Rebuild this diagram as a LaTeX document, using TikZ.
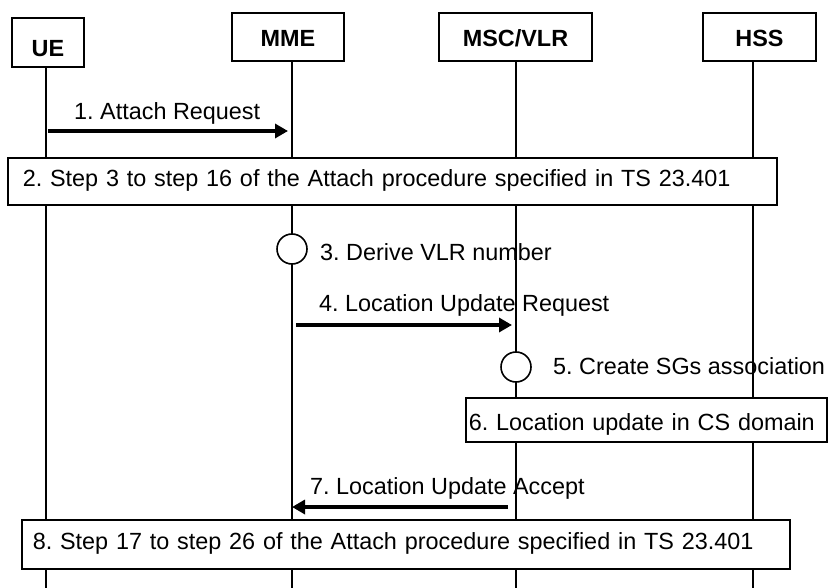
\documentclass[tikz,border=0pt]{standalone}
\usepackage{fontspec}
\setmainfont{Liberation Sans}
\usetikzlibrary{arrows.meta}
\frenchspacing
\tikzset{
  basefont/.style={font=\fontsize{23.4}{28}\selectfont\frenchspacing},
  entity/.style={draw, line width=1.6pt, fill=white, inner sep=0pt, font=\fontsize{23.4}{28}\selectfont\bfseries, text depth=0pt},
  stepbox/.style={draw, line width=1.6pt, fill=white, align=left, text depth=0pt},
  life/.style={line width=1.6pt},
  msg/.style={line width=4pt, -{Triangle[length=13pt,width=14pt]}},
  proc/.style={draw, circle, line width=1.6pt, fill=white, minimum size=30pt, inner sep=0pt},
  lbl/.style={anchor=base west, inner sep=0pt}
}
\begin{document}
\begin{tikzpicture}[x=1pt,y=-1pt,basefont]
\useasboundingbox (0,0) rectangle (832,588);
% entities
\node[entity, minimum width=72pt, minimum height=49pt, text height=29pt] (ue) at (48,42.5) {UE};
\node[entity, minimum width=112pt, minimum height=48pt, text height=20pt] (mme) at (288,37) {MME};
\node[entity, minimum width=153pt, minimum height=48pt, text height=20pt] (msc) at (515.5,37) {MSC/VLR};
\node[entity, minimum width=113pt, minimum height=48pt, text height=20pt] (hss) at (759.5,37) {HSS};
% lifeline ends
\coordinate (ueE) at (46,588);
\coordinate (mmeE) at (292,588);
\coordinate (mscE) at (516,588);
\coordinate (hssE) at (753,588);
\draw[life] (ue.south -| ueE) -- (ueE);
\draw[life] (mme.south -| mmeE) -- (mmeE);
\draw[life] (msc.south -| mscE) -- (mscE);
\draw[life] (hss.south -| hssE) -- (hssE);
% 1
\coordinate (m1s) at (48,131);
\coordinate (m1e) at (288,131);
\draw[msg] (m1s) -- (m1e);
\node[lbl] (l1) at (74,120) {1. Attach Request};
% 2
\node[stepbox, anchor=north west, minimum height=47pt, inner xsep=15pt, text width=739pt, text height=11pt] (s2) at (7,157) {2. Step 3 to step 16 of the Attach procedure specified in TS 23.401};
% 3
\node[proc] (c3) at (292,249) {};
\node[lbl] (l3) at (320,260) {3. Derive VLR number};
% 4
\coordinate (m4s) at (296,325);
\coordinate (m4e) at (512,325);
\draw[msg] (m4s) -- (m4e);
\node[lbl] (l4) at (319,311) {4. Location Update Request};
% 5
\node[proc] (c5) at (516,367) {};
\node[lbl] (l5) at (553,374) {5. Create SGs association};
% 6
\node[stepbox, anchor=north west, minimum height=44pt, inner xsep=3pt, text width=355pt, text height=22pt] (s6) at (465,397) {6. Location update in CS domain};
% 7
\coordinate (m7s) at (508,507);
\coordinate (m7e) at (292,507);
\draw[msg] (m7s) -- (m7e);
\node[lbl] (l7) at (310,494) {7. Location Update Accept};
% 8
\node[stepbox, anchor=north west, minimum height=49pt, inner xsep=11pt, text width=746pt, text height=11pt] (s8) at (21,519) {8. Step 17 to step 26 of the Attach procedure specified in TS 23.401};
\end{tikzpicture}
\end{document}
